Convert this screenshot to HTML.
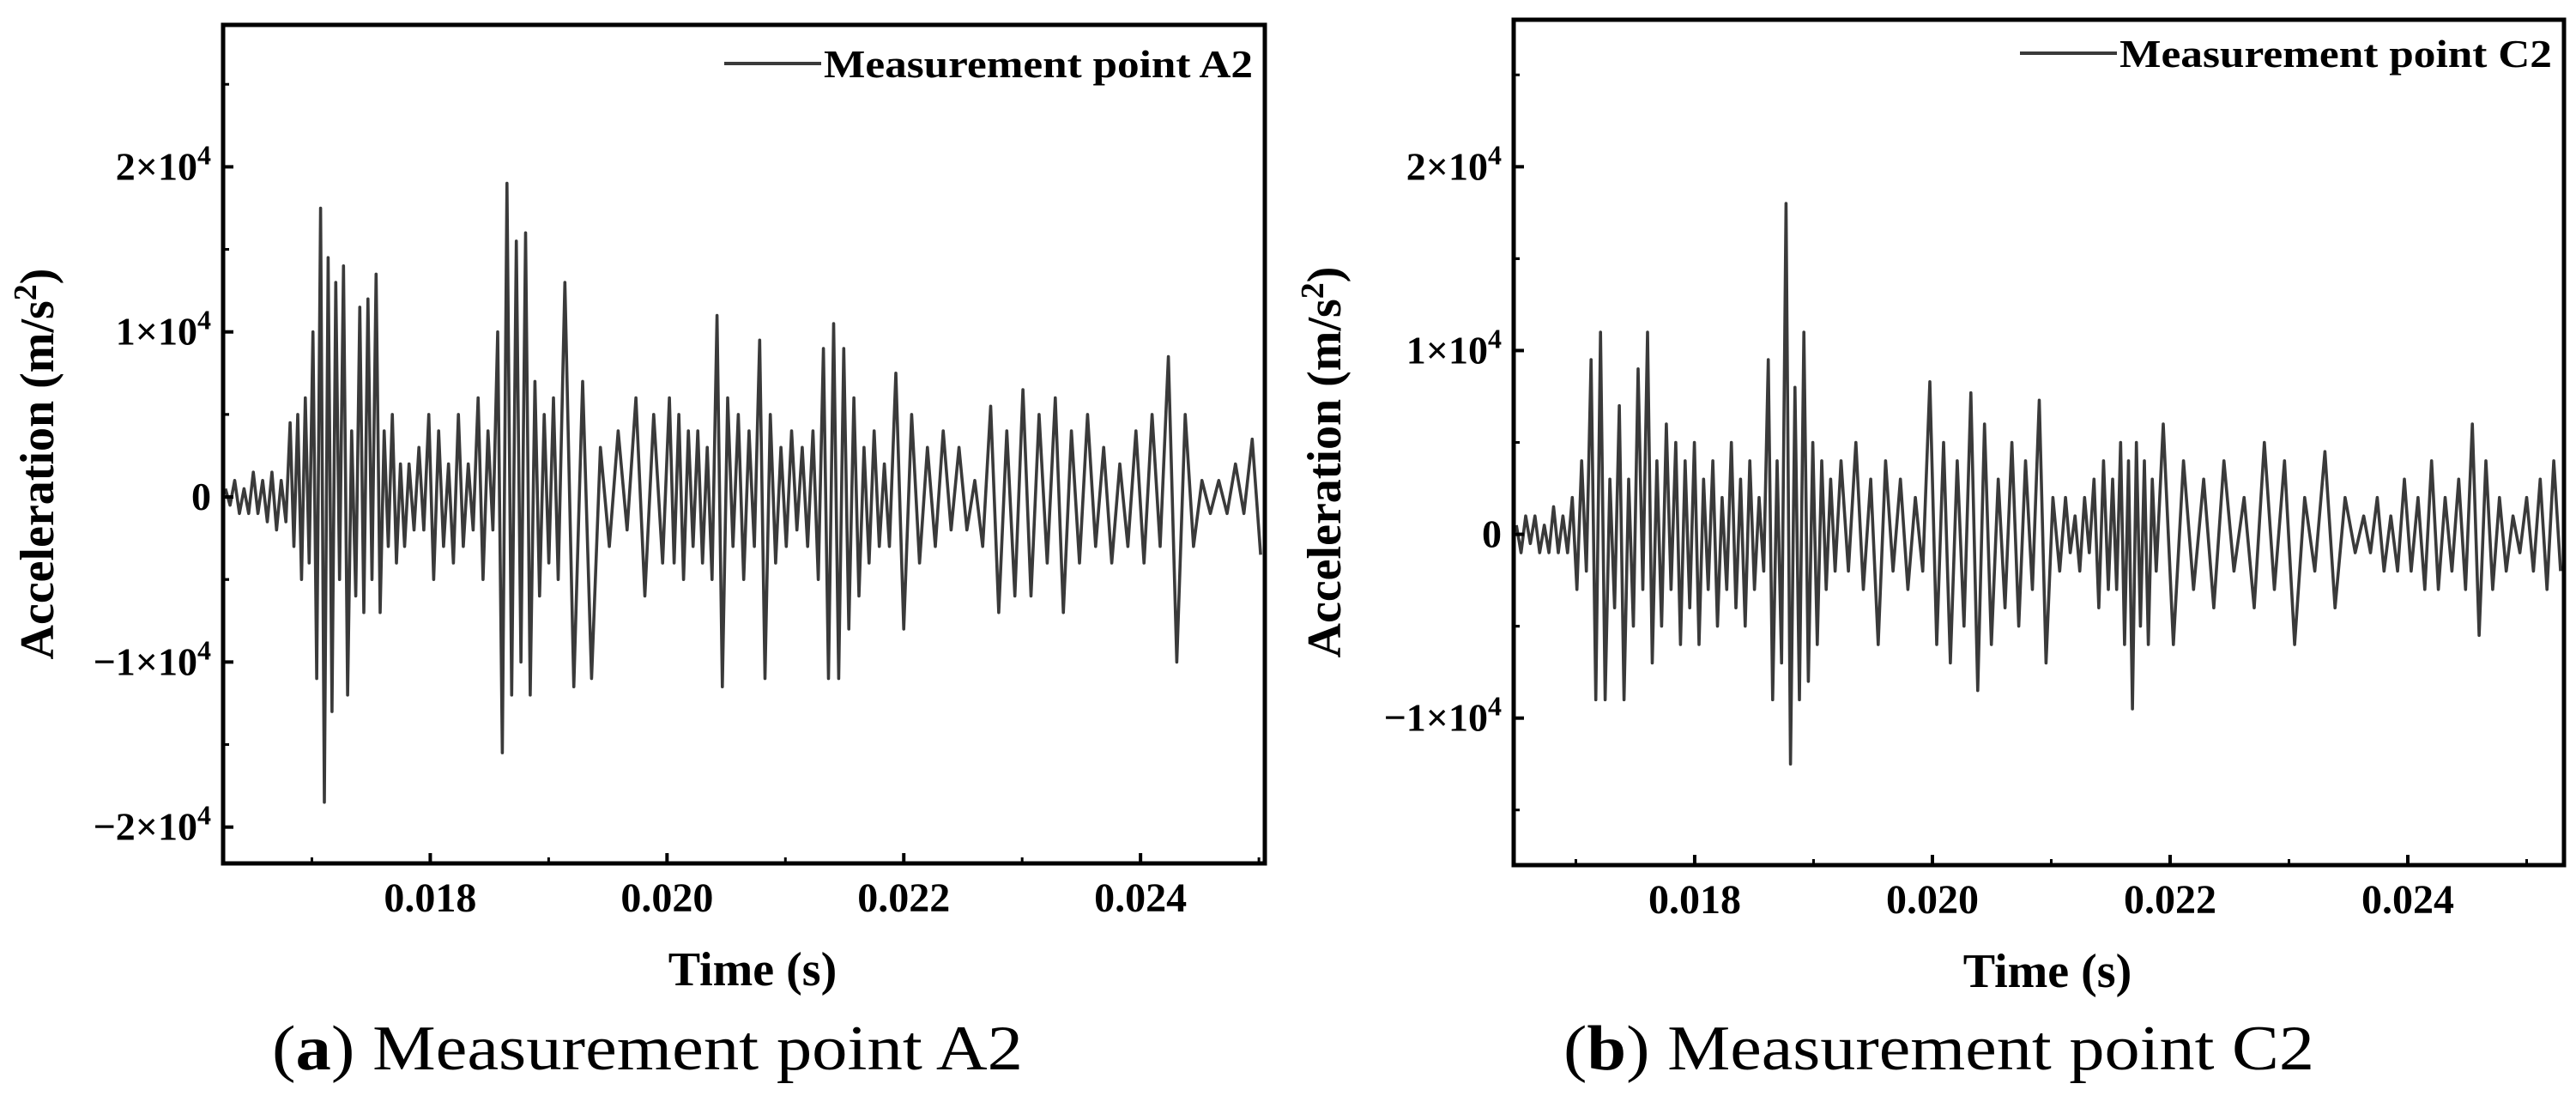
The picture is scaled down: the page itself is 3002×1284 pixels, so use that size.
<!DOCTYPE html>
<html><head><meta charset="utf-8"><style>
html,body{margin:0;padding:0;background:#fff;overflow:hidden;}
svg{display:block;}
</style></head><body>
<svg id="chart" width="3002" height="1284" viewBox="0 0 3002 1284" xmlns="http://www.w3.org/2000/svg" font-family="'Liberation Serif', serif"></svg>
<script>
// Panel A: segment start times (s) and oscillation extremes (units of 1e3 m/s^2)
const segStartsA = [0.01625,0.0168,0.01725,0.0178,0.01855,0.0191,0.0200,0.0204,0.0213,0.0219,0.0227,0.0242];
const segValuesA = [
[0.5,-0.5,1,-1,0.5,-1,1.5,-1,1,-1.5,1.5,-2,1,-1.5],
[4.5,-3,5,-5,6,-4,10,-11,17.5,-18.5,14.5,-13,13,-5],
[14,-12,4,-6,11.5,-7,12,-5,13.5,-7,4,-3,5,-4,2,-3],
[2,-2,3,-2,5,-5,4,-3,2,-4,5,-3,2,-2,6,-5,4,-2],
[10,-15.5,19,-12,15.5,-10,16,-12,7,-6,5,-4,6,-5],
[13,-11.5,7,-11,3,-3,4,-2,6,-6,5,-4],
[6,-4,5,-5,4,-3,4,-4,3,-5],
[11,-11.5,6,-3,5,-5,4,-3,9.5,-11,5,-4,3,-3,4,-2,3,-3,4,-5],
[9,-11,10.5,-11,9,-8,6,-6,3,-4,4,-3,2,-3],
[7.5,-8,5,-4,3,-3,4,-2,3,-2,1,-3],
[5.5,-7,4,-6,6.5,-6,5,-4,6,-7,4,-4,5,-3,3,-4,2,-3,4,-4,5,-3],
[8.5,-10,5,-3,1,-1,1,-1,2,-1,3.5,-3.5]];
// Panel B
const segStartsB = [0.01648,0.01695,0.0179,0.0186,0.0192,0.01995,0.0211,0.0215,0.0219,0.0236];
const segValuesB = [
[0.5,-1,1,-0.5,1,-1,0.5,-1,1.5,-1,1,-1],
[2,-3,4,-2,9.5,-9,11,-9,3,-4,7,-9,3,-5,9,-3,11,-7,4,-5,6,-3,5,-6],
[4,-4,5,-6,3,-3,4,-5,2,-3,5,-4,3,-5,4,-3,2,-2],
[9.5,-9,4,-7,18,-12.5,8,-9,11,-8,5,-6,4,-3,3,-2],
[4,-2,5,-3,3,-6,4,-2,3,-3,2,-2],
[8.3,-6,5,-7,4,-5,7.7,-8.5,6,-6,3,-4,5,-5,4,-3,7.3,-7,2,-2],
[2,-1,1,-2,2,-1,3,-4,4,-3],
[3,-3,5,-6,4,-9.5,5,-5,4,-6,3,-2],
[6,-6,4,-3,3,-4,4,-2,2,-4,5,-3,4,-6,2,-2,4.5,-4,2,-1],
[1,-1,2,-2,1,-2,3,-2,2,-3,4,-3,2,-2,3,-3,6,-5.5,4,-3,2,-2,1,-1,2,-2,3,-3,4,-2]];
const xTicks = [0.018,0.020,0.022,0.024];
const xTickLabels = ["0.018","0.020","0.022","0.024"];
const yTicksA = [20,10,0,-10,-20];
const yTicksB = [20,10,0,-10];

const NS="http://www.w3.org/2000/svg";
const svg=document.getElementById('chart');
function mk(tag,attrs,parent){const e=document.createElementNS(NS,tag);for(const k in attrs)e.setAttribute(k,attrs[k]);(parent||svg).appendChild(e);return e;}

function panel(cfg){
  const g=mk('g',{});
  
  
  const {L,R,T,B,t0,t1,v0,v1}=cfg;
  const sx=t=>L+(t-t0)/(t1-t0)*(R-L);
  const sy=v=>B-(v-v0)/(v1-v0)*(B-T);
  let d='';let first=true;
  cfg.starts.forEach((s,k)=>{
    const e=k+1<cfg.starts.length?cfg.starts[k+1]:t1;
    const vals=cfg.segs[k];
    vals.forEach((v,i)=>{
      const t=s+(e-s)*(i+0.5)/vals.length;
      d+=(first?'M':'L')+sx(t).toFixed(1)+' '+sy(v).toFixed(1);first=false;
    });
  });
  const p=mk('path',{d:d,fill:'none',stroke:'#3a3a3a','stroke-width':3.6,'stroke-linejoin':'round'},g);
  
  
  const fr=mk('rect',{x:L,y:T,width:R-L,height:B-T,fill:'none',stroke:'#000','stroke-width':5},g);
  
  
  xTicks.forEach((t,i)=>{
    const x=sx(t);
    mk('line',{x1:x,x2:x,y1:B,y2:B-12,stroke:'#000','stroke-width':4},g);
    const h=sx(t-0.001); if(h>L) mk('line',{x1:h,x2:h,y1:B,y2:B-7,stroke:'#000','stroke-width':3},g);
    const tx=mk('text',{x:x,y:B+56,'text-anchor':'middle','font-size':48,'font-weight':'bold'},g);
    tx.textContent=xTickLabels[i];
    
    
  });
  const last=sx(0.025); if(last<R) mk('line',{x1:last,x2:last,y1:B,y2:B-7,stroke:'#000','stroke-width':3},g);
  cfg.yTicks.forEach(v=>{
    const y=sy(v);
    mk('line',{x1:L,x2:L+12,y1:y,y2:y,stroke:'#000','stroke-width':4},g);
    [v+5,v-5].forEach(m=>{const ym=sy(m);if(ym>T+5&&ym<B-5)mk('line',{x1:L,x2:L+7,y1:ym,y2:ym,stroke:'#000','stroke-width':3},g);});
    const tx=mk('text',{x:L-14,y:y+15,'text-anchor':'end','font-size':46,'font-weight':'bold'},g);
    if(v===0){tx.textContent='0';}
    else{
      const m=v/10;
      tx.textContent=(m<0?'\u2212':'')+Math.abs(m)+'\u00d710';
      const s=mk('tspan',{dy:-18,'font-size':32},tx); s.textContent='4';
    }
    
    
  });
  const xt=mk('text',{x:(L+R)/2+10,y:B+142,'text-anchor':'middle','font-size':56,'font-weight':'bold'},g);
  xt.textContent='Time (s)';
  
  
  const yt=mk('text',{x:0,y:0,'text-anchor':'middle','font-size':56,'font-weight':'bold',transform:`translate(${L-cfg.ytOff},${(T+B)/2+23}) rotate(-90)`},g);
  yt.textContent='Acceleration (m/s';
  const sup=mk('tspan',{dy:-20,'font-size':38},yt); sup.textContent='2';
  const cl=mk('tspan',{dy:20},yt); cl.textContent=')';
  
  
  const lg=mk('g',{},g);
  
  
  mk('line',{x1:cfg.legX,x2:cfg.legX+113,y1:cfg.legY,y2:cfg.legY,stroke:'#3a3a3a','stroke-width':4},lg);
  const lt=mk('text',{x:cfg.legX+116,y:cfg.legY+16,'font-size':46,'font-weight':'bold',textLength:cfg.legW,lengthAdjust:'spacingAndGlyphs'},lg);
  lt.textContent=cfg.legend;
  const cp=mk('text',{x:cfg.capX,y:1246,'font-size':74,textLength:cfg.capW,lengthAdjust:'spacingAndGlyphs'},g);
  
  
  const b1=mk('tspan',{},cp); b1.textContent='(';
  const b2=mk('tspan',{'font-weight':'bold'},cp); b2.textContent=cfg.letter;
  const b3=mk('tspan',{},cp); b3.textContent=') '+cfg.legend;
}

panel({name:'panel-a-A2',L:260,R:1474,T:29,B:1006,t0:0.01625,t1:0.02505,v0:-22.2,v1:28.6,starts:segStartsA,segs:segValuesA,yTicks:yTicksA,ytOff:198,
  legX:844,legY:74,legW:500,legend:'Measurement point A2',capX:317,capW:875,letter:'a'});
panel({name:'panel-b-C2',L:1764,R:2988,T:23,B:1008,t0:0.016477,t1:0.025314,v0:-18.0,v1:28.0,starts:segStartsB,segs:segValuesB,yTicks:yTicksB,ytOff:202,
  legX:2354,legY:62,legW:504,legend:'Measurement point C2',capX:1822,capW:875,letter:'b'});
</script>
</body></html>
